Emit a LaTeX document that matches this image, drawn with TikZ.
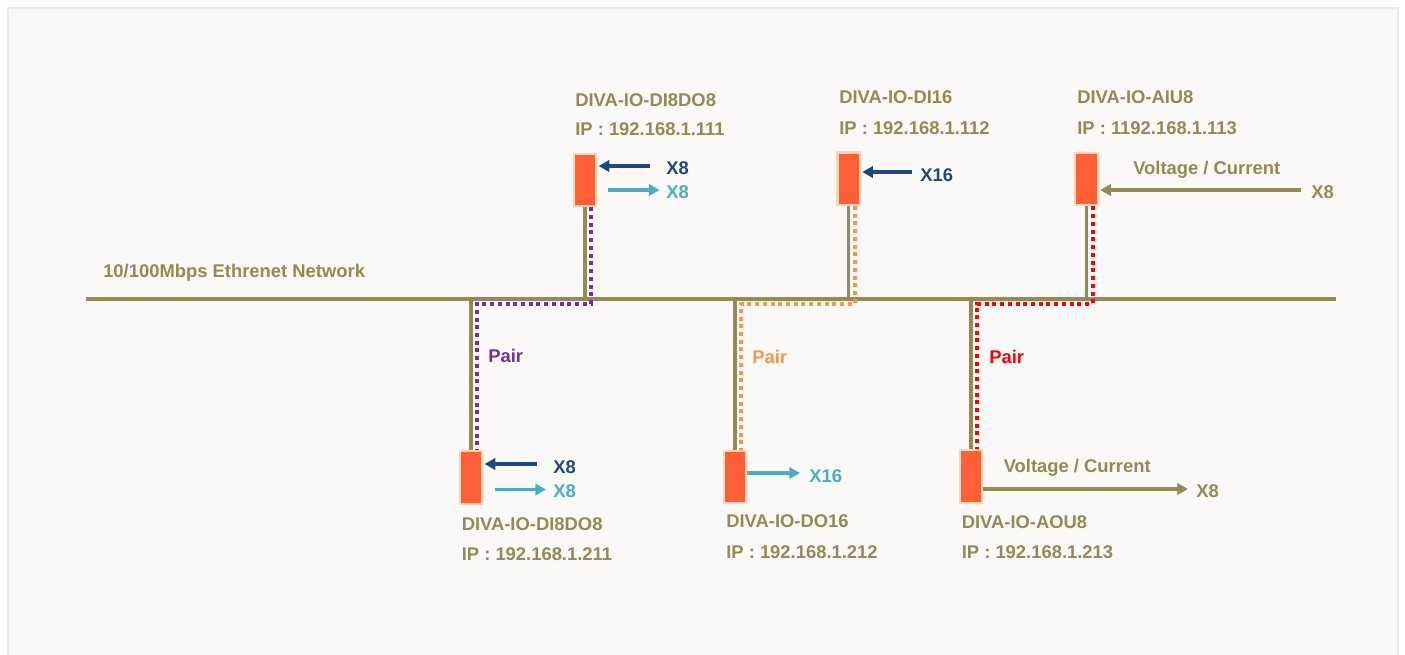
\documentclass[tikz,border=0pt]{standalone}
\usepackage{fontspec}
\setmainfont{Liberation Sans}
\usetikzlibrary{arrows.meta}

\definecolor{olive}{RGB}{148,138,84}
\definecolor{darkblue}{RGB}{31,73,125}
\definecolor{lightblue}{RGB}{75,172,198}
\definecolor{pairpurple}{RGB}{112,48,160}
\definecolor{pairorange}{RGB}{247,150,70}
\definecolor{pairred}{RGB}{255,0,0}
\definecolor{boxred}{RGB}{255,95,55}
\definecolor{peach}{RGB}{252,213,181}
\definecolor{panelbg}{RGB}{250,249,247}
\definecolor{panelline}{RGB}{236,235,232}

\begin{document}
\begin{tikzpicture}[x=0.75pt,y=0.75pt,yscale=-1,xscale=1,
    every node/.style={font=\fontsize{13.8}{16}\selectfont\bfseries, inner sep=0pt},
    lbl/.style={anchor=base west, text=olive},
    module/.style={draw=peach, fill=boxred, line width=1.6pt, minimum width=16.8pt, minimum height=39.3pt},
    bus/.style={draw=olive, line width=2.6pt},
    stem/.style={draw=olive, line width=2.3pt},
    pairline/.style={line width=3pt, dash pattern=on 3pt off 2.8pt},
    sig/.style={line width=2.4pt, -{Triangle[length=8pt,width=8.5pt]}}
  ]
    \useasboundingbox (0,0) rectangle (1405,654);
    %Shape: Panel
    \fill[panelbg] (8,8) rectangle (1398,670);
    \draw[panelline, line width=1pt] (8,670) -- (8,8) -- (1398,8) -- (1398,670);

    %Straight Lines: network bus
    \coordinate (busW) at (86,299);
    \coordinate (busE) at (1336,299);
    \coordinate (pairrow) at (0,303.5);
    \draw[bus] (busW) -- (busE);
    % Text Node
    \node[lbl] (netlbl) at (103,277) {10/100Mbps Ethrenet Network};

    %Shape: modules
    \node[module] (t1) at (585,180) {};
    \node[module] (t2) at (848.7,178.7) {};
    \node[module] (t3) at (1086.5,179.2) {};
    \node[module] (b1) at (471,477.5) {};
    \node[module] (b2) at (735,477) {};
    \node[module] (b3) at (971,476.5) {};

    %Straight Lines: stems
    \draw[stem] (t1.south) -- (t1.south |- busW);
    \draw[stem] (t2.south) -- (t2.south |- busW);
    \draw[stem] (t3.south) -- (t3.south |- busW);
    \draw[stem] (b1.north) -- (b1.north |- busW);
    \draw[stem] (b2.north) -- (b2.north |- busW);
    \draw[stem] (b3.north) -- (b3.north |- busW);

    %Dotted Lines: pairs
    \coordinate (t1p) at ([xshift=4.6pt]t1.south);
    \coordinate (b1p) at ([xshift=4.6pt]b1.north);
    \coordinate (t2p) at ([xshift=4.6pt]t2.south);
    \coordinate (b2p) at ([xshift=4.6pt]b2.north);
    \coordinate (t3p) at ([xshift=4.6pt]t3.south);
    \coordinate (b3p) at ([xshift=4.6pt]b3.north);
    \draw[pairline, draw=pairpurple] (t1p) -- (t1p |- pairrow) -| (b1p);
    \draw[pairline, draw=pairorange] (t2p) -- (t2p |- pairrow) -| (b2p);
    \draw[pairline, draw=pairred] (t3p) -- (t3p |- pairrow) -| (b3p);
    % Text Node
    \node[anchor=base west, text=pairpurple] (pair1) at (488,362) {Pair};
    \node[anchor=base west, text=pairorange] (pair2) at (752,363) {Pair};
    \node[anchor=base west, text=pairred] (pair3) at (989,363) {Pair};

    %Shape: modules on top
    \node[module] at (t1) {};
    \node[module] at (t2) {};
    \node[module] at (t3) {};
    \node[module] at (b1) {};
    \node[module] at (b2) {};
    \node[module] at (b3) {};

    % Text Node: module names
    \node[lbl] (t1name) at (575,106) {DIVA-IO-DI8DO8};
    \node[lbl] (t1ip) at (575,135) {IP : 192.168.1.111};
    \node[lbl] (t2name) at (839,103) {DIVA-IO-DI16};
    \node[lbl] (t2ip) at (839,134) {IP : 192.168.1.112};
    \node[lbl] (t3name) at (1077,103) {DIVA-IO-AIU8};
    \node[lbl] (t3ip) at (1077,134) {IP : 1192.168.1.113};
    \node[lbl] (b1name) at (461.5,530) {DIVA-IO-DI8DO8};
    \node[lbl] (b1ip) at (461.5,560) {IP : 192.168.1.211};
    \node[lbl] (b2name) at (726,527) {DIVA-IO-DO16};
    \node[lbl] (b2ip) at (726,558) {IP : 192.168.1.212};
    \node[lbl] (b3name) at (961.5,528) {DIVA-IO-AOU8};
    \node[lbl] (b3ip) at (961.5,558) {IP : 192.168.1.213};

    %Arrows: signals
    \coordinate (t1in) at (650,166);
    \coordinate (t1outs) at (607.5,190);
    \coordinate (t1oute) at (659.5,190);
    \draw[sig, draw=darkblue] (t1in) -- ([xshift=1pt]t1in -| t1.east);
    \draw[sig, draw=lightblue] (t1outs) -- (t1oute);
    \node[anchor=base west, text=darkblue] (t1x8a) at (666,174) {X8};
    \node[anchor=base west, text=lightblue] (t1x8b) at (666,198) {X8};

    \coordinate (t2in) at (912,172);
    \draw[sig, draw=darkblue] (t2in) -- ([xshift=1pt]t2in -| t2.east);
    \node[anchor=base west, text=darkblue] (t2x16) at (920,181) {X16};

    \coordinate (t3in) at (1300.5,190);
    \draw[sig, draw=olive] (t3in) -- ([xshift=1pt]t3in -| t3.east);
    \node[lbl] (t3vc) at (1133,174) {Voltage / Current};
    \node[lbl] (t3x8) at (1311,198) {X8};

    \coordinate (b1in) at (537,464);
    \coordinate (b1outs) at (494.5,489.5);
    \coordinate (b1oute) at (546,489.5);
    \draw[sig, draw=darkblue] (b1in) -- ([xshift=1pt]b1in -| b1.east);
    \draw[sig, draw=lightblue] (b1outs) -- (b1oute);
    \node[anchor=base west, text=darkblue] (b1x8a) at (553,473) {X8};
    \node[anchor=base west, text=lightblue] (b1x8b) at (553,497) {X8};

    \coordinate (b2oute) at (800,473);
    \draw[sig, draw=lightblue] (b2.east |- b2oute) -- (b2oute);
    \node[anchor=base west, text=lightblue] (b2x16) at (809,482) {X16};

    \coordinate (b3oute) at (1188,489);
    \draw[sig, draw=olive] (b3.east |- b3oute) -- (b3oute);
    \node[lbl] (b3vc) at (1003.5,472) {Voltage / Current};
    \node[lbl] (b3x8) at (1196,497) {X8};
\end{tikzpicture}
\end{document}
